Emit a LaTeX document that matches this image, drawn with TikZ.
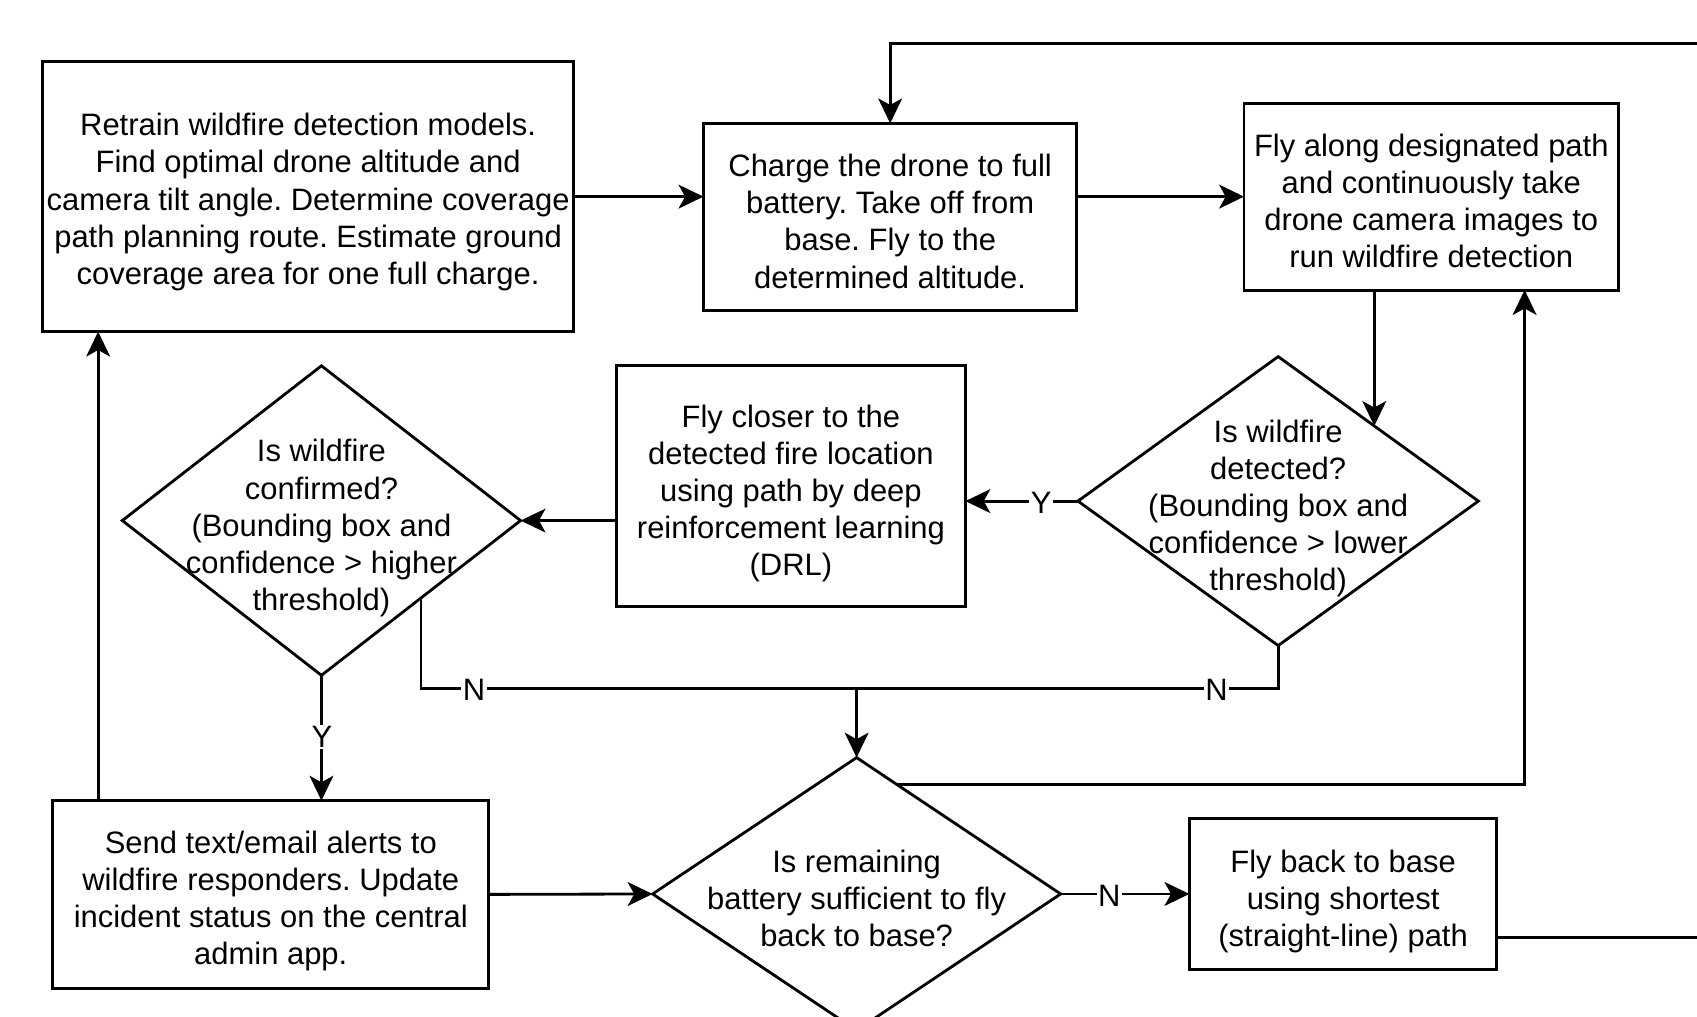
\documentclass[tikz,border=0pt]{standalone}
\usepackage{fontspec}
\setmainfont{Liberation Sans}
\usetikzlibrary{arrows.meta,shapes.geometric,calc}
\begin{document}
\begin{tikzpicture}[x=1pt,y=-1pt,
  every node/.style={font=\fontsize{28.6}{34.3}\selectfont\frenchspacing},
  box/.style={draw,line width=2.6pt,rectangle,inner sep=0pt,outer sep=0pt},
  dia/.style={draw,line width=2.6pt,diamond,inner sep=0pt,outer sep=0pt,aspect=1},
  txt/.style={align=center,inner sep=0pt},
  lbl/.style={fill=white,inner sep=1.5pt},
  conn/.style={line width=2.6pt},
  arr/.style={line width=2.6pt,-{Stealth[length=23pt,width=22pt,inset=6pt]}}]
\useasboundingbox (0,0) rectangle (1568,939);
\clip (0,0) rectangle (1568,939);
\fill[white] (0,0) rectangle (1568,939);

% boxes
\node[box,minimum width=490.6pt,minimum height=249.4pt] (A) at (284.7,181.7) {};
\node[txt] (At) at (284.7,186.7)
  {Retrain wildfire detection models.\\Find optimal drone altitude and\\camera tilt angle. Determine coverage\\path planning route. Estimate ground\\coverage area for one full charge.};
\node[box,minimum width=345pt,minimum height=173pt] (B) at (822.5,200.5) {};
\node[txt] (Bt) at (822.5,204.5)
  {Charge the drone to full\\battery. Take off from\\base. Fly to the\\determined altitude.};
\node[box,minimum width=346pt,minimum height=172.7pt] (C) at (1322.5,181.7) {};
\node[txt] (Ct) at (1322.5,185.7)
  {Fly along designated path\\and continuously take\\drone camera images to\\run wildfire detection};
\node[box,minimum width=322.4pt,minimum height=222.5pt] (E) at (730.8,449.3) {};
\node[txt] (Et) at (730.8,455.8)
  {Fly closer to the\\detected fire location\\using path by deep\\reinforcement learning\\(DRL)};
\node[box,minimum width=403pt,minimum height=173.2pt] (F) at (250.2,826.4) {};
\node[txt] (Ft) at (250.2,832.4)
  {Send text/email alerts to\\wildfire responders. Update\\incident status on the central\\admin app.};
\node[box,minimum width=284pt,minimum height=140pt] (G) at (1241,826) {};
\node[txt] (Gt) at (1241,833)
  {Fly back to base\\using shortest\\(straight-line) path};

% diamonds
\node[dia,minimum width=370pt,minimum height=267pt] (D1) at (1181,463) {};
\node[txt] (D1t) at (1181,470) {Is wildfire\\detected?\\(Bounding box and\\confidence > lower\\threshold)};
\node[dia,minimum width=368pt,minimum height=286pt] (D2) at (297,481) {};
\node[txt] (D2t) at (297,488) {Is wildfire\\confirmed?\\(Bounding box and\\confidence > higher\\threshold)};
\node[dia,minimum width=377pt,minimum height=252pt] (D3) at (791.5,826) {};
\node[txt] (D3t) at (791.5,830) {Is remaining\\battery sufficient to fly\\back to base?};

% helper coordinates
\coordinate (d1in) at ($(D1.north)!0.48!(D1.east)$);
\coordinate (d2out) at ($(D2.east)!0.5!(D2.south)$);
\coordinate (d3out) at ($(D3.north)!0.2!(D3.east)$);
\coordinate (jn) at (791.5,636);
\coordinate (upx) at (1408.7,268);
\coordinate (leftx) at (90.7,500);
\coordinate (offR1) at (1580,866);
\coordinate (offR2) at (1580,40);
\coordinate (topB) at (822.5,40);

% connectors
\draw[arr] (A.east) -- (A.east -| B.west);
\draw[arr] (C.west -| B.east) -- (C.west);
\draw[arr] (d1in |- C.south) -- (d1in);
\draw[arr] (D1.west) -- (D1.west -| E.east);
\node[lbl] (lY1) at (962,465) {Y};
\draw[arr] (E.west |- D2.east) -- (D2.east);
\draw[conn] (d2out) |- (jn);
\node[lbl] (lN1) at (438,637.5) {N};
\draw[conn] (D1.south) |- (jn);
\node[lbl] (lN2) at (1124,637.5) {N};
\draw[arr] (jn) -- (D3.north);
\draw[arr] (D2.south) -- (D2.south |- F.north);
\node[lbl] (lY2) at (297.5,681) {Y};
\draw[arr] (leftx |- F.north) -- (leftx |- A.south);
\draw[arr] (F.east) -- (D3.west);
\draw[arr] (d3out) -| (upx);
\draw[arr] (D3.east) -- (D3.east -| G.west);
\node[lbl] (lN3) at (1025,827.5) {N};
\draw[conn] (G.east |- offR1) -- (offR1);
\draw[arr] (offR2) -- (topB) -- (B.north);
\end{tikzpicture}
\end{document}
